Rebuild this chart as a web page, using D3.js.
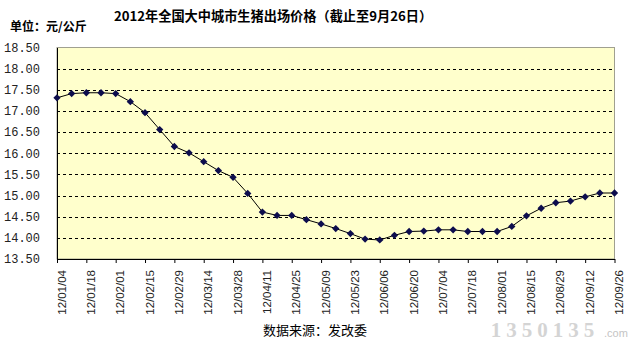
<!DOCTYPE html>
<html>
<head>
<meta charset="utf-8">
<script src="https://cdn.jsdelivr.net/npm/d3@7/dist/d3.min.js"></script>
<style>
  html, body { margin: 0; padding: 0; background: #fff; }
  svg { display: block; }
</style>
</head>
<body>
<svg id="chart" width="636" height="342"></svg>
<script>
// Weekly market dates (yy/mm/dd)
const dates = [
  "12/01/04","12/01/11","12/01/18","12/01/25","12/02/01","12/02/08","12/02/15","12/02/22",
  "12/02/29","12/03/07","12/03/14","12/03/21","12/03/28","12/04/04","12/04/11","12/04/18",
  "12/04/25","12/05/02","12/05/09","12/05/16","12/05/23","12/05/30","12/06/06","12/06/13",
  "12/06/20","12/06/27","12/07/04","12/07/11","12/07/18","12/07/25","12/08/01","12/08/08",
  "12/08/15","12/08/22","12/08/29","12/09/05","12/09/12","12/09/19","12/09/26"
];
// Live hog price, yuan per kg
const prices = [
  17.31, 17.41, 17.43, 17.43, 17.41, 17.22, 16.96, 16.56,
  16.16, 16.01, 15.80, 15.59, 15.43, 15.05, 14.61, 14.53,
  14.53, 14.43, 14.33, 14.22, 14.10, 13.97, 13.95, 14.06,
  14.15, 14.16, 14.19, 14.19, 14.15, 14.15, 14.15, 14.27,
  14.52, 14.70, 14.83, 14.87, 14.97, 15.06, 15.06
];
// Dates shown on the axis (every other week)
const xTickLabels = [
  "12/01/04","12/01/18","12/02/01","12/02/15","12/02/29","12/03/14","12/03/28","12/04/11",
  "12/04/25","12/05/09","12/05/23","12/06/06","12/06/20","12/07/04","12/07/18","12/08/01",
  "12/08/15","12/08/29","12/09/12","12/09/26"
];
const yTicks = [13.5, 14.0, 14.5, 15.0, 15.5, 16.0, 16.5, 17.0, 17.5, 18.0, 18.5];

const titleText = "2012年全国大中城市生猪出场价格（截止至9月26日）";
const unitText = "单位：元/公斤";
const sourceText = "数据来源：发改委";

const svg = d3.select("#chart");
const plotL = 57, plotR = 614.5, plotT = 47.5, plotB = 259;

const x = d3.scalePoint().domain(dates).range([plotL, plotR]);
const y = d3.scaleLinear().domain([13.5, 18.5]).range([plotB, plotT]);

// plot background
svg.append("rect")
  .attr("x", plotL).attr("y", plotT)
  .attr("width", plotR - plotL).attr("height", plotB - plotT)
  .attr("fill", "#ffffcc")
  .attr("stroke", "#a0a090").attr("stroke-width", 1);

// dashed horizontal grid
svg.append("g")
  .selectAll("line")
  .data(yTicks.filter(d => d > 13.5 && d < 18.5))
  .join("line")
  .attr("x1", plotL).attr("x2", plotR)
  .attr("y1", d => Math.round(y(d)) + 0.5).attr("y2", d => Math.round(y(d)) + 0.5)
  .attr("stroke", "#000").attr("stroke-width", 1)
  .attr("stroke-dasharray", "3,3");

// y axis
const yAxis = d3.axisLeft(y)
  .tickValues(yTicks)
  .tickFormat(d3.format(".2f"))
  .tickSize(0)
  .tickPadding(17);
const gy = svg.append("g").attr("transform", `translate(${plotL},0)`).call(yAxis);
gy.select(".domain").attr("stroke", "#000");
gy.selectAll("text")
  .attr("font-family", "'Liberation Mono', 'DejaVu Sans Mono', monospace")
  .attr("font-size", 12)
  .attr("fill", "#222");

// x axis
const xAxis = d3.axisBottom(x)
  .tickValues(xTickLabels)
  .tickSize(4)
  .tickSizeOuter(0);
const gx = svg.append("g").attr("transform", `translate(0,${plotB})`).call(xAxis);
gx.select(".domain").attr("stroke", "#000");
gx.selectAll(".tick line").attr("stroke", "#000");
gx.selectAll("text")
  .attr("font-family", "'Liberation Sans', Arial, sans-serif")
  .attr("font-size", 11.5)
  .attr("fill", "#222")
  .attr("text-anchor", "end")
  .attr("dy", null)
  .attr("y", null)
  .attr("transform", "translate(8,11) rotate(-90)");

// price line
const line = d3.line()
  .x((d, i) => x(dates[i]))
  .y(d => y(d));
svg.append("path")
  .datum(prices)
  .attr("d", line)
  .attr("fill", "none")
  .attr("stroke", "#000")
  .attr("stroke-width", 1);

// diamond markers
const diamond = d3.symbol().type(d3.symbolDiamond2).size(34);
svg.append("g")
  .selectAll("path")
  .data(prices)
  .join("path")
  .attr("d", diamond)
  .attr("transform", (d, i) => `translate(${x(dates[i])},${y(d)})`)
  .attr("fill", "#0d0d4d");

// title and notes
svg.append("text")
  .attr("x", 273).attr("y", 21)
  .attr("text-anchor", "middle")
  .attr("font-family", "'Noto Sans CJK SC', sans-serif")
  .attr("font-weight", "bold")
  .attr("font-size", 13.2)
  .attr("fill", "#000")
  .text(titleText);

svg.append("text")
  .attr("x", 10).attr("y", 30.5)
  .attr("font-family", "'Noto Sans CJK SC', sans-serif")
  .attr("font-weight", "bold")
  .attr("font-size", 12)
  .attr("fill", "#000")
  .text(unitText);

svg.append("text")
  .attr("x", 315).attr("y", 335)
  .attr("text-anchor", "middle")
  .attr("font-family", "'Noto Sans CJK SC', sans-serif")
  .attr("font-size", 13)
  .attr("fill", "#000")
  .text(sourceText);

// site mark
svg.append("text")
  .attr("x", 545).attr("y", 337)
  .attr("text-anchor", "middle")
  .attr("font-family", "'Liberation Serif', serif")
  .attr("font-weight", "bold")
  .attr("font-size", 21)
  .attr("letter-spacing", 5)
  .attr("fill", "#d4d4d4")
  .text("1350135");
svg.append("text")
  .attr("x", 604).attr("y", 337)
  .attr("font-family", "'Liberation Sans', sans-serif")
  .attr("font-size", 11)
  .attr("fill", "#c4c4c4")
  .text(".com");
</script>
</body>
</html>
